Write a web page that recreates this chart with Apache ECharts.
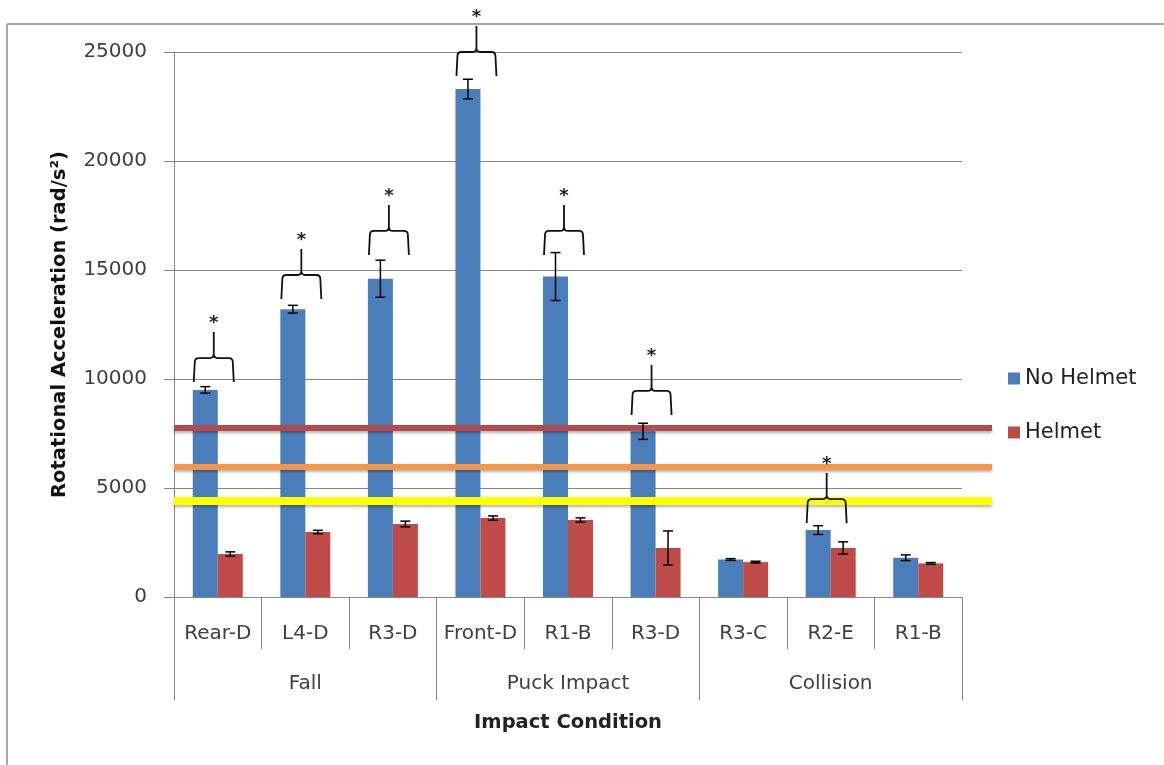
<!DOCTYPE html>
<html>
<head>
<meta charset="utf-8">
<script src="https://cdn.jsdelivr.net/npm/echarts@6/dist/echarts.min.js"></script>
<style>
  html, body { margin: 0; padding: 0; background: #fff; }
  #chart { width: 1164px; height: 765px; }
</style>
</head>
<body>
<div id="chart"></div>
<script>
// categories
var conditions = ['Rear-D', 'L4-D', 'R3-D', 'Front-D', 'R1-B', 'R3-D', 'R3-C', 'R2-E', 'R1-B'];
var groups = ['Fall', 'Puck Impact', 'Collision'];

// means and error bars (rad/s^2)
var noHelmet = [9500, 13200, 14600, 23300, 14700, 7600, 1720, 3070, 1800];
var noHelmetErr = [150, 180, 850, 450, 1100, 370, 40, 200, 130];
var helmet = [1970, 2980, 3350, 3620, 3530, 2250, 1600, 2250, 1540];
var helmetErr = [100, 80, 130, 100, 100, 780, 40, 280, 40];

// significance braces: [category index, value at bottom of the brace legs]
var braces = [[0, 9860], [1, 13670], [2, 15690], [3, 23900], [4, 15690], [5, 8350], [7, 3390]];

// threshold lines
var thresholds = [
  { name: 'high', value: 7750, color: '#b5494b', width: 6 },
  { name: 'mid', value: 5960, color: '#f79646', width: 6 },
  { name: 'low', value: 4400, color: '#ffff00', width: 8 }
];

var yTicks = { min: 0, max: 25000, interval: 5000 };

var BAR_W = 25;
var FONT = 'DejaVu Sans';
var myChart = echarts.init(document.getElementById('chart'));

function errorBars(values, errs, side) {
  return {
    type: 'custom',
    xAxisIndex: 0,
    yAxisIndex: 0,
    z: 5,
    silent: true,
    data: values.map(function (v, i) { return [i, v, errs[i]]; }),
    renderItem: function (params, api) {
      var i = api.value(0), v = api.value(1), e = api.value(2);
      var top = api.coord([i, v + e]);
      var bot = api.coord([i, v - e]);
      var x = top[0] + side * BAR_W / 2;
      var cap = 5;
      var st = { stroke: '#000', lineWidth: 1.5 };
      return {
        type: 'group',
        children: [
          { type: 'line', shape: { x1: x, y1: top[1], x2: x, y2: bot[1] }, style: st },
          { type: 'line', shape: { x1: x - cap, y1: top[1], x2: x + cap, y2: top[1] }, style: st },
          { type: 'line', shape: { x1: x - cap, y1: bot[1], x2: x + cap, y2: bot[1] }, style: st }
        ]
      };
    }
  };
}

var braceSeries = {
  type: 'custom',
  xAxisIndex: 0,
  yAxisIndex: 0,
  z: 6,
  silent: true,
  data: braces,
  renderItem: function (params, api) {
    var p = api.coord([api.value(0), api.value(1)]);
    var xc = p[0] - 4;
    var xl = xc - 19, xr = xc + 19;
    var yb = p[1];
    var yh = yb - 24;
    var ys = yh - 26;
    var r = 4;
    // legs lean out slightly toward the bottom, like a curly brace turned on its side
    var path =
      'M' + (xl - 1) + ' ' + yb + ' L' + xl + ' ' + (yh + r) + ' Q' + xl + ' ' + yh + ' ' + (xl + r) + ' ' + yh +
      ' L' + (xc - r) + ' ' + yh + ' Q' + xc + ' ' + yh + ' ' + xc + ' ' + (yh - r) +
      ' L' + xc + ' ' + ys +
      ' M' + (xr + 1) + ' ' + yb + ' L' + xr + ' ' + (yh + r) + ' Q' + xr + ' ' + yh + ' ' + (xr - r) + ' ' + yh +
      ' L' + (xc + r) + ' ' + yh + ' Q' + xc + ' ' + yh + ' ' + xc + ' ' + (yh - r);
    return {
      type: 'group',
      children: [
        { type: 'path', shape: { pathData: path }, style: { fill: 'none', stroke: '#111', lineWidth: 1.8 } },
        { type: 'text', x: xc, y: ys - 9, style: { text: '*', fill: '#222', font: 'bold 18px ' + FONT, align: 'center', verticalAlign: 'middle' } }
      ]
    };
  }
};

var thresholdSeries = thresholds.map(function (t) {
  return {
    type: 'line',
    name: t.name,
    xAxisIndex: 2,
    yAxisIndex: 1,
    z: 4,
    silent: true,
    symbol: 'none',
    data: [[0, t.value], [1, t.value]],
    lineStyle: {
      color: t.color, width: t.width,
      shadowColor: 'rgba(0,0,0,0.3)', shadowBlur: 3, shadowOffsetY: 2
    }
  };
});

var option = {
  backgroundColor: '#fff',
  animation: false,
  textStyle: { fontFamily: FONT },
  legend: {
    orient: 'vertical',
    left: 1003,
    top: 363,
    itemWidth: 12,
    itemHeight: 12,
    itemGap: 33,
    icon: 'rect',
    data: ['No Helmet', 'Helmet'],
    textStyle: { fontSize: 21, color: '#222', fontFamily: FONT }
  },
  grid: [
    { left: 174, right: 202, top: 52, bottom: 168 },
    { left: 174, right: 172, top: 52, bottom: 168 }
  ],
  xAxis: [
    {
      type: 'category',
      gridIndex: 0,
      data: conditions,
      axisLine: { show: true, lineStyle: { color: '#868686', width: 1 } },
      axisTick: { show: true, length: 52, interval: 0, alignWithLabel: false, lineStyle: { color: '#868686' } },
      axisLabel: { interval: 0, fontSize: 20, color: '#404040', margin: 27, fontFamily: FONT },
      name: 'Impact Condition',
      nameLocation: 'middle',
      nameGap: 116,
      nameTextStyle: { fontSize: 19.5, fontWeight: 'bold', color: '#222', fontFamily: FONT }
    },
    {
      type: 'category',
      gridIndex: 0,
      position: 'bottom',
      data: groups,
      axisLine: { show: false },
      axisTick: { show: true, length: 103, interval: 0, alignWithLabel: false, lineStyle: { color: '#868686' } },
      axisLabel: { interval: 0, fontSize: 20, color: '#404040', margin: 77, fontFamily: FONT },
      splitLine: { show: false }
    },
    {
      type: 'value',
      gridIndex: 1,
      min: 0,
      max: 1,
      show: false
    }
  ],
  yAxis: [
    {
      type: 'value',
      gridIndex: 0,
      min: yTicks.min,
      max: yTicks.max,
      interval: yTicks.interval,
      axisLine: { show: true, lineStyle: { color: '#868686' } },
      axisTick: { show: true, inside: false, length: 10, lineStyle: { color: '#868686' } },
      splitLine: { lineStyle: { color: '#868686', width: 1 } },
      axisLabel: {
        fontSize: 20, color: '#404040', margin: 27, fontFamily: FONT,
        formatter: function (v) { return String(v); }
      },
      name: 'Rotational Acceleration (rad/s²)',
      nameLocation: 'middle',
      nameGap: 104,
      nameTextStyle: { fontSize: 19.5, fontWeight: 'bold', color: '#111', fontFamily: FONT }
    },
    {
      type: 'value',
      gridIndex: 1,
      min: yTicks.min,
      max: yTicks.max,
      show: false
    }
  ],
  series: [
    {
      name: 'No Helmet',
      type: 'bar',
      xAxisIndex: 0,
      yAxisIndex: 0,
      barWidth: BAR_W,
      barGap: '0%',
      itemStyle: { color: '#4a7ebb' },
      data: noHelmet
    },
    {
      name: 'Helmet',
      type: 'bar',
      xAxisIndex: 0,
      yAxisIndex: 0,
      barWidth: BAR_W,
      barGap: '0%',
      itemStyle: { color: '#be4b48' },
      data: helmet
    },
    errorBars(noHelmet, noHelmetErr, -1),
    errorBars(helmet, helmetErr, 1),
    braceSeries
  ].concat(thresholdSeries),
  graphic: [
    { type: 'line', shape: { x1: 7, y1: 24, x2: 1164, y2: 24 }, style: { stroke: '#a6a6a6', lineWidth: 2 } },
    { type: 'line', shape: { x1: 7, y1: 24, x2: 7, y2: 765 }, style: { stroke: '#a6a6a6', lineWidth: 2 } }
  ]
};

myChart.setOption(option);
</script>
</body>
</html>
